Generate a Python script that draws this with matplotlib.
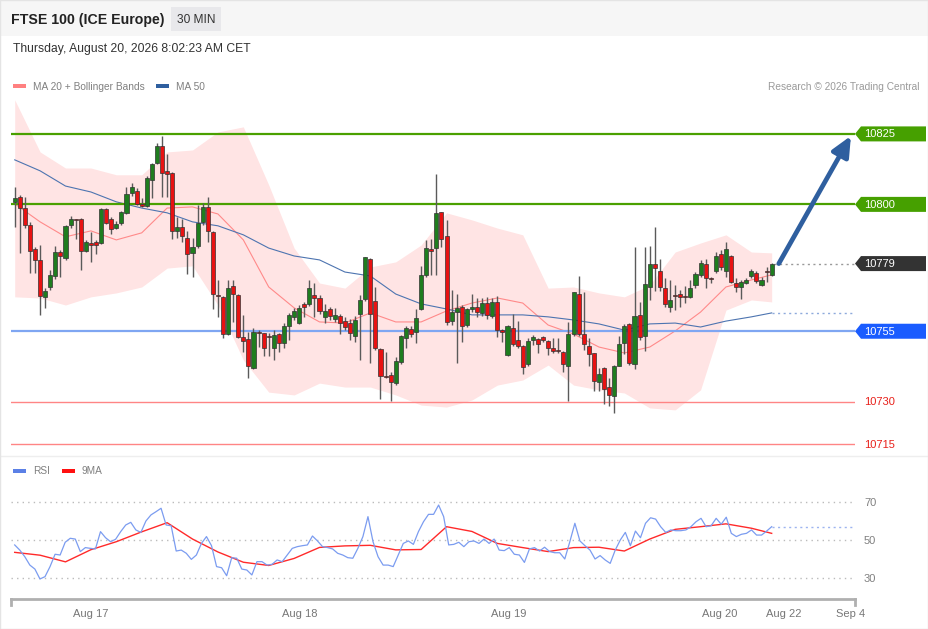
import matplotlib
matplotlib.use("Agg")
import matplotlib.pyplot as plt
import numpy as np
from matplotlib.patches import Polygon, Rectangle
from matplotlib.lines import Line2D
from matplotlib.transforms import blended_transform_factory

plt.rcParams["font.family"] = ["Liberation Sans", "DejaVu Sans"]

# ---- data (30 min candles) ----
opens = [10800.8, 10802.7, 10798.6, 10792.7, 10784.2, 10780.3, 10767.3, 10770.6, 10774.7, 10783.2,
         10781.1, 10792.7, 10794.6, 10794.7, 10783.6, 10786.3, 10786.8, 10786.2, 10798.4, 10794.7,
         10791.7, 10793.3, 10796.9, 10804.2, 10804.8, 10800.0, 10799.5, 10808.7, 10814.8, 10820.8,
         10811.9, 10811.3, 10790.7, 10791.8, 10788.2, 10782.7, 10785.3, 10793.7, 10799.2, 10790.3,
         10767.9, 10767.3, 10754.0, 10771.2, 10767.9, 10752.9, 10752.2, 10741.8, 10754.6, 10754.3,
         10753.1, 10749.0, 10754.0, 10750.9, 10756.9, 10760.2, 10757.8, 10764.6, 10764.7, 10767.9,
         10766.7, 10759.9, 10762.8, 10759.2, 10760.4, 10758.7, 10757.8, 10753.3, 10761.1, 10766.3,
         10780.7, 10765.8, 10748.7, 10738.9, 10739.5, 10736.7, 10744.2, 10752.7, 10755.7, 10754.8,
         10762.8, 10775.0, 10784.1, 10784.4, 10797.2, 10788.8, 10758.8, 10761.7, 10763.7, 10757.2,
         10762.8, 10763.7, 10761.4, 10765.1, 10760.4, 10765.5, 10755.4, 10746.6, 10756.3, 10751.9,
         10749.8, 10743.4, 10751.9, 10752.2, 10752.9, 10751.6, 10749.0, 10748.2, 10747.7, 10742.7,
         10753.9, 10768.2, 10753.9, 10749.8, 10747.2, 10736.9, 10741.8, 10735.3, 10732.0, 10742.8,
         10750.7, 10757.5, 10743.4, 10760.8, 10753.3, 10770.7, 10778.8, 10776.4, 10770.2, 10763.5,
         10767.7, 10768.2, 10767.6, 10767.3, 10771.4, 10775.0, 10778.8, 10773.9, 10776.5, 10782.4,
         10776.5, 10781.7, 10772.2, 10770.8, 10772.2, 10774.6, 10775.8, 10771.4, 10776.5, 10775.0]
highs = [10806.3, 10803.3, 10802.6, 10793.7, 10785.0, 10785.6, 10770.3, 10776.7, 10785.4, 10783.8,
         10792.7, 10795.9, 10794.7, 10795.2, 10787.4, 10790.1, 10787.4, 10798.6, 10798.6, 10795.7,
         10794.1, 10797.7, 10806.0, 10807.7, 10805.7, 10802.3, 10809.9, 10814.8, 10821.7, 10824.3,
         10817.8, 10811.6, 10795.6, 10794.7, 10790.6, 10788.0, 10799.8, 10800.6, 10802.7, 10790.6,
         10773.2, 10767.5, 10773.2, 10773.2, 10768.1, 10760.8, 10754.8, 10756.3, 10755.4, 10754.5,
         10754.4, 10755.4, 10754.5, 10757.8, 10761.4, 10763.2, 10764.3, 10765.5, 10773.2, 10772.0,
         10767.9, 10764.7, 10763.7, 10763.3, 10761.1, 10760.1, 10759.2, 10760.4, 10767.9, 10781.5,
         10781.1, 10770.8, 10749.0, 10747.7, 10740.6, 10746.0, 10753.7, 10756.9, 10756.9, 10762.8,
         10778.2, 10787.4, 10787.6, 10810.8, 10797.4, 10794.5, 10769.6, 10768.2, 10764.3, 10763.2,
         10768.2, 10766.7, 10766.7, 10767.1, 10766.8, 10767.5, 10755.8, 10757.2, 10761.1, 10758.7,
         10750.1, 10752.6, 10753.7, 10752.5, 10753.3, 10751.9, 10752.5, 10752.5, 10748.1, 10758.4,
         10769.0, 10774.6, 10769.0, 10752.5, 10747.4, 10741.8, 10742.2, 10738.3, 10743.0, 10753.3,
         10757.6, 10757.8, 10784.8, 10765.5, 10785.0, 10785.3, 10792.1, 10780.5, 10774.0, 10773.2,
         10771.4, 10769.6, 10771.1, 10773.2, 10776.1, 10780.3, 10780.5, 10774.1, 10783.2, 10783.8,
         10786.8, 10782.1, 10773.8, 10773.2, 10773.9, 10777.1, 10776.4, 10774.2, 10777.9, 10779.2]
lows = [10792.1, 10782.9, 10791.6, 10775.8, 10775.8, 10760.8, 10763.4, 10769.6, 10773.5, 10774.4,
        10780.3, 10791.5, 10787.7, 10776.7, 10783.2, 10779.5, 10782.3, 10785.9, 10793.1, 10789.4,
        10791.3, 10792.7, 10796.6, 10803.0, 10799.8, 10799.1, 10799.2, 10802.4, 10814.2, 10802.7,
        10802.7, 10787.7, 10788.1, 10786.6, 10775.2, 10774.4, 10784.7, 10792.7, 10786.6, 10762.9,
        10760.2, 10752.5, 10753.7, 10758.4, 10752.5, 10747.6, 10738.4, 10741.5, 10749.5, 10746.2,
        10746.2, 10744.8, 10747.7, 10749.0, 10751.9, 10759.0, 10757.6, 10759.9, 10764.0, 10759.9,
        10761.1, 10757.8, 10759.0, 10758.3, 10754.0, 10755.4, 10751.9, 10751.3, 10744.8, 10765.7,
        10743.8, 10748.4, 10730.8, 10738.4, 10730.4, 10735.9, 10743.4, 10749.0, 10752.9, 10750.7,
        10762.5, 10774.2, 10775.0, 10775.0, 10784.9, 10757.2, 10757.2, 10743.8, 10751.3, 10756.5,
        10761.8, 10760.1, 10760.4, 10759.2, 10759.7, 10753.0, 10751.3, 10746.2, 10749.8, 10749.1,
        10739.8, 10742.7, 10750.1, 10747.4, 10751.3, 10746.6, 10747.3, 10747.4, 10740.4, 10730.4,
        10753.3, 10753.3, 10748.4, 10742.7, 10733.9, 10733.9, 10729.2, 10728.6, 10725.9, 10742.7,
        10746.8, 10743.0, 10741.5, 10751.9, 10748.0, 10766.1, 10769.4, 10769.4, 10763.5, 10761.9,
        10762.5, 10763.5, 10764.9, 10766.7, 10770.4, 10774.3, 10770.2, 10772.1, 10775.7, 10776.7,
        10774.4, 10772.2, 10768.9, 10766.3, 10771.8, 10773.9, 10772.1, 10771.1, 10772.5, 10774.6]
closes = [10802.4, 10798.6, 10792.7, 10783.6, 10780.3, 10767.6, 10769.4, 10775.0, 10783.2, 10781.7,
          10792.4, 10794.7, 10794.3, 10783.6, 10786.8, 10785.6, 10785.6, 10798.4, 10793.3, 10791.2,
          10792.9, 10797.2, 10803.7, 10806.0, 10800.2, 10799.5, 10809.5, 10814.2, 10820.8, 10811.3,
          10810.7, 10790.7, 10791.8, 10788.8, 10782.3, 10784.8, 10793.3, 10799.2, 10790.7, 10768.2,
          10767.5, 10754.0, 10770.2, 10768.2, 10752.9, 10751.6, 10742.8, 10754.6, 10754.3, 10749.0,
          10752.8, 10753.7, 10750.9, 10756.9, 10760.8, 10762.2, 10763.4, 10763.7, 10770.2, 10766.7,
          10762.3, 10762.3, 10760.4, 10760.8, 10757.8, 10756.4, 10754.3, 10759.0, 10766.1, 10781.2,
          10761.1, 10749.0, 10739.1, 10738.6, 10737.1, 10744.6, 10753.3, 10756.3, 10753.9, 10759.6,
          10775.0, 10784.4, 10783.6, 10796.9, 10787.7, 10758.4, 10761.9, 10763.2, 10757.0, 10762.8,
          10763.7, 10761.7, 10765.1, 10760.8, 10765.5, 10755.4, 10754.8, 10756.9, 10750.5, 10749.9,
          10742.4, 10751.6, 10753.0, 10750.4, 10751.9, 10749.2, 10748.1, 10748.0, 10743.4, 10753.9,
          10768.8, 10753.9, 10750.4, 10746.8, 10737.5, 10739.7, 10734.4, 10732.4, 10742.8, 10750.4,
          10757.0, 10743.6, 10760.4, 10753.1, 10771.8, 10778.9, 10777.3, 10770.8, 10764.7, 10766.1,
          10767.5, 10767.3, 10767.0, 10770.2, 10775.3, 10779.1, 10773.8, 10773.7, 10781.7, 10777.9,
          10784.1, 10772.6, 10770.6, 10772.6, 10773.2, 10776.5, 10772.8, 10773.2, 10776.0, 10779.0]

# indicator samples (every 5th bar + last)
ind_bar = [0, 5, 10, 15, 20, 25, 30, 35, 40, 45, 50, 55, 60, 65, 70, 75, 80, 85, 90, 95,
           100, 105, 110, 115, 120, 125, 130, 135, 140, 145, 149]
bb_upper = [10837.1, 10818.6, 10812.9, 10812.9, 10810.5, 10810.5, 10818.6, 10819.3, 10825.7, 10827.5,
            10806.9, 10784.5, 10772.1, 10770.3, 10777.8, 10779.6, 10785.6, 10797.0, 10794.5, 10791.6,
            10789.2, 10770.3, 10770.7, 10768.6, 10767.2, 10771.4, 10783.1, 10786.3, 10789.2, 10783.1, 10782.8]
bb_lower = [10767.2, 10766.8, 10764.3, 10767.2, 10768.6, 10770.7, 10777.4, 10778.2, 10764.3, 10744.8,
            10733.4, 10732.4, 10736.6, 10735.2, 10735.2, 10732.4, 10728.8, 10728.1, 10730.6, 10735.9,
            10737.7, 10743.0, 10735.9, 10734.2, 10733.1, 10727.8, 10727.1, 10734.2, 10762.5, 10766.1, 10765.4]
ma20 = [10800.2, 10793.8, 10788.5, 10790.6, 10787.4, 10789.9, 10798.7, 10799.1, 10796.6, 10787.4,
        10770.7, 10763.3, 10758.3, 10757.9, 10761.5, 10758.3, 10758.3, 10762.2, 10765.0, 10766.8,
        10765.0, 10757.2, 10754.0, 10749.4, 10747.3, 10749.4, 10755.1, 10761.8, 10770.7, 10773.2, 10775.0]
ma50 = [10815.8, 10811.9, 10806.5, 10804.4, 10800.9, 10798.7, 10797.0, 10793.8, 10792.4, 10789.2,
        10784.5, 10781.7, 10780.3, 10776.0, 10774.6, 10768.2, 10764.7, 10762.9, 10760.8, 10760.8,
        10760.8, 10760.1, 10759.0, 10757.6, 10755.4, 10757.6, 10757.9, 10756.5, 10758.6, 10760.1, 10761.5]

rsi = [47.4, 44.7, 41.2, 36.8, 34.7, 29.5, 30.7, 36, 42.5, 42.1, 48.8, 50.9, 50.5, 43.9, 46, 45.6,
       45.3, 54.4, 51.2, 49.1, 50.4, 54.4, 57.9, 59.3, 55.3, 54, 60, 63.2, 64.9, 66.7, 57.9, 57.5,
       44.2, 44.7, 43, 39.8, 42.1, 48.2, 51.8, 47, 36, 35.4, 31.2, 40.7, 40.4, 34.7, 34.2, 31.6,
       38.6, 38.6, 36.8, 37.2, 39.5, 38.6, 42.1, 45.6, 46.5, 47, 47.4, 52.1, 49.5, 46.5, 46, 45.3,
       43, 42.1, 40.7, 40.4, 45.6, 51.8, 62.3, 49.1, 41.2, 36.8, 36.8, 36, 42.1, 48.2, 49.5, 47.7,
       54.4, 59.6, 63.5, 63.5, 68.4, 62.3, 47.4, 47.7, 48.8, 46.5, 49.1, 49.5, 48.2, 50.5, 48.2,
       50.5, 44.7, 44.4, 46, 42.5, 42.1, 38.2, 45.3, 46, 44.2, 46.2, 43.9, 43.3, 43.3, 40, 49.1,
       58.8, 49.5, 47, 44.7, 40, 41.8, 39.5, 37.7, 44.7, 50, 54, 47, 54.7, 51.2, 58.8, 61.7, 61,
       57, 54, 55.3, 54.9, 54.9, 55.3, 57, 59.6, 61.4, 57, 57.5, 61.4, 58.3, 62, 53.5, 51.8, 53,
       53.5, 55.3, 52.6, 52.6, 54.7, 57]
rsi_ma9 = [43.5, 42.0, 38.5, 44.9, 49.1, 54.3, 59.1, 50.5, 43.7, 38.3, 36.6, 40.3, 46.1, 46.9, 47.2,
           44.8, 45.0, 57.0, 54.5, 48.2, 46.0, 43.9, 46.0, 46.2, 44.2, 50.5, 55.6, 57.0, 58.5, 56.2, 53.5]

levels_res = [10825, 10800]
level_sup = 10755
levels_low = [10730, 10715]
last_price = 10779
tick_labels = ["Aug 17", "Aug 18", "Aug 19", "Aug 20", "Aug 22", "Sep 4"]
tick_bars = [15.0, 56.2, 97.3, 138.8, 151.4, 164.6]

# ---- layout helpers (pixels) ----
W, H = 929, 629
fig = plt.figure(figsize=(W / 100, H / 100), dpi=100)


def fx(px):
    return px / W


def fy(py):
    return 1 - py / H


n = len(opens)
bars = np.arange(n)
XL = (-0.73, 165.4)
end_bar = XL[1]

# page frame & header
fig.patches.append(Rectangle((0, fy(36)), 1, fy(0) - fy(36), transform=fig.transFigure,
                             fc="#f6f6f6", ec="none", zorder=0))
fig.patches.append(Rectangle((fx(0.5), fy(628.5)), fx(928), fy(0.5) - fy(628.5), transform=fig.transFigure,
                             fc="none", ec="#e4e4e4", lw=1, zorder=5))
fig.patches.append(Rectangle((fx(171), fy(31)), fx(50), fy(7) - fy(31), transform=fig.transFigure,
                             fc="#e8e8eb", ec="none", zorder=1))
fig.text(fx(11), fy(20), "FTSE 100 (ICE Europe)", fontsize=10.2, fontweight="bold", color="#222222",
         va="center", ha="left")
fig.text(fx(196), fy(20), "30 MIN", fontsize=8.6, color="#333333", va="center", ha="center")
fig.text(fx(13), fy(49), "Thursday, August 20, 2026 8:02:23 AM CET", fontsize=8.7, color="#333333",
         va="center", ha="left")
fig.add_artist(Line2D([0, 1], [fy(456), fy(456)], color="#eeeeee", lw=1))

# legends
def legend_item(x, y, color, label):
    fig.patches.append(Rectangle((fx(x), fy(y + 2)), fx(13), fy(y - 2) - fy(y + 2),
                                 transform=fig.transFigure, fc=color, ec="none"))
    fig.text(fx(x + 20), fy(y + 0.5), label, fontsize=7.3, color="#808080", va="center", ha="left")


legend_item(13, 86, "#ff8080", "MA 20 + Bollinger Bands")
legend_item(156, 86, "#2f5f9f", "MA 50")
legend_item(13, 471, "#5b80e6", "RSI")
legend_item(62, 471, "#ff1010", "9MA")
fig.text(fx(920), fy(86.5), "Research \u00a9 2026 Trading Central", fontsize=7.3, color="#9a9a9a",
         va="center", ha="right")

# ---- price panel ----
ax = fig.add_axes([fx(11), fy(455), fx(855) - fx(11), fy(95) - fy(455)])
ax.set_xlim(*XL)
ax.set_ylim(10711.1, 10838.8)
ax.axis("off")

ax.fill_between(ind_bar, bb_lower, bb_upper, color="#ffe4e4", lw=0, zorder=1)
ax.plot(ind_bar, ma20, color="#ff8a8a", lw=0.8, zorder=2)
ax.plot(ind_bar, ma50, color="#4d74b0", lw=0.8, zorder=2)
ax.plot([ind_bar[-1], end_bar], [ma50[-1]] * 2, color="#8eaadc", lw=1, ls=(0, (1.5, 2.5)), zorder=2)

for lv in levels_res:
    ax.axhline(lv, color="#4aa000", lw=1.6, zorder=3)
ax.axhline(level_sup, color="#7fa6f2", lw=1.6, zorder=3)
for lv in levels_low:
    ax.axhline(lv, color="#ff8585", lw=1, zorder=3)

o = np.array(opens)
c = np.array(closes)
up = c >= o
colors = np.where(up, "#1f7d1f", "#e81212")
ax.vlines(bars, lows, highs, color="#5a5a5a", lw=1, zorder=4)
body_lo = np.minimum(o, c)
body_h = np.maximum(np.abs(c - o), 0.35)
ax.bar(bars, body_h, bottom=body_lo, width=0.8, color=colors, edgecolor="#333333", lw=0.5, zorder=5)

ax.plot([bars[-1] + 0.4, end_bar], [last_price] * 2, color="#999999", lw=1, ls=(0, (1.5, 2.5)), zorder=3)
ax.annotate("", xy=(164.6, 10824.3), xytext=(150.4, last_price),
            arrowprops=dict(arrowstyle="-|>,head_length=1.2,head_width=0.55", lw=3.4,
                            color="#2f5f9f", shrinkA=0, shrinkB=0), zorder=6)

# right side labels
tr = blended_transform_factory(fig.transFigure, ax.transData)
half = 7.5 / 2.818


def tag(level, fc):
    pts = [(fx(855), level), (fx(861), level + half), (fx(926), level + half),
           (fx(926), level - half), (fx(861), level - half)]
    ax.add_patch(Polygon(pts, closed=True, transform=tr, fc=fc, ec="none", clip_on=False, zorder=7))
    ax.text(fx(864), level - 0.2, str(level), transform=tr, color="white", fontsize=8, va="center",
            ha="left", clip_on=False, zorder=8)


for lv in levels_res:
    tag(lv, "#46a000")
tag(last_price, "#333333")
tag(level_sup, "#1a5cff")
for lv in levels_low:
    ax.text(fx(864), lv - 0.2, str(lv), transform=tr, color="#e8201a", fontsize=8, va="center", ha="left",
            clip_on=False)

# ---- RSI panel ----
rx = fig.add_axes([fx(11), fy(599), fx(855) - fx(11), fy(460) - fy(599)])
rx.set_xlim(*XL)
rx.set_ylim(18.95, 92.1)
for s in ["top", "left", "right"]:
    rx.spines[s].set_visible(False)
rx.spines["bottom"].set_color("#b0b0b0")
rx.spines["bottom"].set_linewidth(2)
rx.set_yticks([])
for g in [70, 50, 30]:
    rx.axhline(g, color="#bbbbbb", lw=1, ls=(0, (1, 3)), zorder=1)
    rx.text(fx(864), g - 0.4, str(g), transform=blended_transform_factory(fig.transFigure, rx.transData),
            color="#808080", fontsize=8, va="center", ha="left", clip_on=False)
rsi_x = np.linspace(0, n - 1, len(rsi))
rx.plot(rsi_x, rsi, color="#7b9cf0", lw=0.9, zorder=3)
rx.plot(ind_bar, rsi_ma9, color="#ff2a2a", lw=1, zorder=2)
rx.plot([n - 1, end_bar], [rsi[-1]] * 2, color="#9db4f0", lw=1, ls=(0, (1.5, 2.5)), zorder=2)
rx.set_xticks(tick_bars)
rx.set_xticklabels(tick_labels, fontsize=8, color="#777777")
rx.tick_params(axis="x", length=0, pad=7)
for xp in [11, 855]:
    fig.add_artist(Line2D([fx(xp), fx(xp)], [fy(599), fy(605)], color="#b0b0b0", lw=2))

fig.savefig("out.png", dpi=100)
